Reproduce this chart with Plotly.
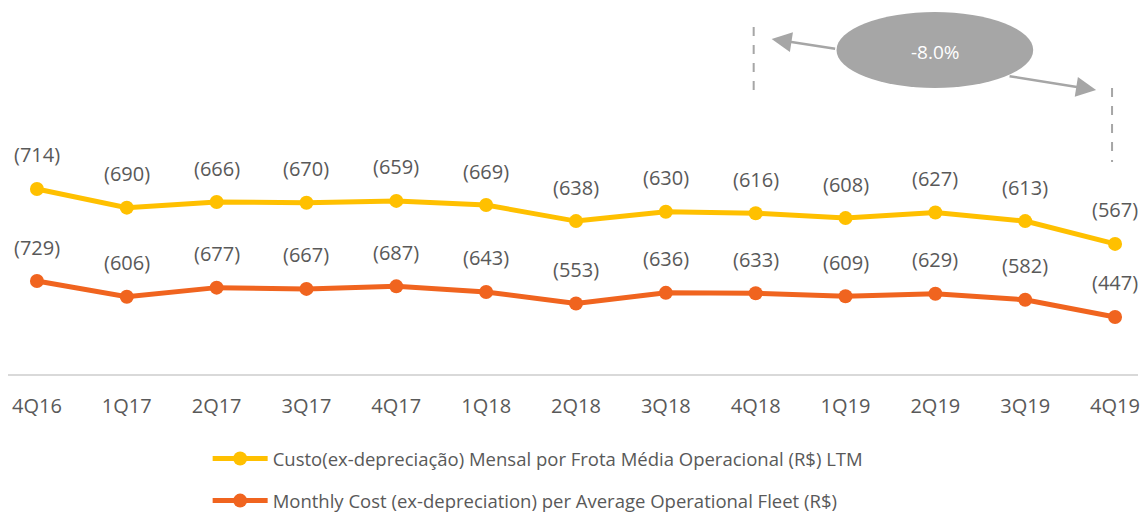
import plotly.graph_objects as go

categories = ["4Q16", "1Q17", "2Q17", "3Q17", "4Q17", "1Q18", "2Q18",
              "3Q18", "4Q18", "1Q19", "2Q19", "3Q19", "4Q19"]

# Custo (ex-depreciação) Mensal por Frota Média Operacional (R$) LTM
ltm_labels = [714, 690, 666, 670, 659, 669, 638, 630, 616, 608, 627, 613, 567]
# plotted position of the LTM line (secondary scale)
ltm_plot = [714, 664, 679, 677, 682, 671, 628, 653, 649, 636, 651, 628, 567]

# Monthly Cost (ex-depreciation) per Average Operational Fleet (R$)
monthly_values = [729, 606, 677, 667, 687, 643, 553, 636, 633, 609, 629, 582, 447]

name_ltm = "Custo(ex-depreciação) Mensal por Frota Média Operacional (R$) LTM"
name_monthly = "Monthly Cost (ex-depreciation) per Average Operational Fleet (R$)"
change_text = "-8.0%"

YELLOW = "#FFC000"
ORANGE = "#F0641F"
TEXT = "#595959"
GRAY = "#A6A6A6"
FONT = "Open Sans"

fig = go.Figure()
fig.add_trace(go.Scatter(
    x=categories, y=ltm_plot, name=name_ltm, yaxis="y2",
    mode="lines+markers", legendgroup="a",
    line=dict(color=YELLOW, width=5), marker=dict(color=YELLOW, size=14),
    hoverinfo="skip"))
fig.add_trace(go.Scatter(
    x=categories, y=monthly_values, name=name_monthly, yaxis="y",
    mode="lines+markers", legendgroup="b",
    line=dict(color=ORANGE, width=5), marker=dict(color=ORANGE, size=14),
    hoverinfo="skip"))

annotations = []
for c, v, lab in zip(categories, ltm_plot, ltm_labels):
    annotations.append(dict(x=c, y=v, xref="x", yref="y2", text=f"({lab})",
                            showarrow=False, yshift=34, yanchor="middle",
                            font=dict(family=FONT, size=20, color=TEXT)))
for c, v in zip(categories, monthly_values):
    annotations.append(dict(x=c, y=v, xref="x", yref="y", text=f"({v})",
                            showarrow=False, yshift=34, yanchor="middle",
                            font=dict(family=FONT, size=20, color=TEXT)))

# helpers: page pixel -> category index / paper fraction
H = 366.0
def fx(px):
    return (px - 37) / 90.0
def py(px):
    return 1 - (px - 8) / H

# arrows
annotations.append(dict(x=fx(773), y=py(39), xref="x", yref="paper", ax=65, ay=10,
                        axref="pixel", ayref="pixel", text="", showarrow=True,
                        arrowhead=2, arrowsize=1.6, arrowwidth=2.5, arrowcolor=GRAY))
annotations.append(dict(x=fx(1098), y=py(90), xref="x", yref="paper", ax=-88, ay=-14,
                        axref="pixel", ayref="pixel", text="", showarrow=True,
                        arrowhead=2, arrowsize=1.6, arrowwidth=2.5, arrowcolor=GRAY))

shapes = [
    dict(type="line", xref="x", yref="paper", x0=fx(755), x1=fx(755), y0=py(27), y1=py(97),
         line=dict(color=GRAY, width=2, dash="dash")),
    dict(type="line", xref="x", yref="paper", x0=fx(1114), x1=fx(1114), y0=py(88), y1=py(162),
         line=dict(color=GRAY, width=2, dash="dash")),
    dict(type="circle", xref="x", yref="paper", x0=fx(838), x1=fx(1035), y0=py(12), y1=py(88),
         fillcolor=GRAY, line=dict(width=0)),
]

annotations.append(dict(x=fx(937), y=py(52), xref="x", yref="paper", text=change_text,
                        showarrow=False, xanchor="center", yanchor="middle",
                        font=dict(family=FONT, size=19, color="white")))

FIG_H = 540
fig.update_layout(
    width=1132, height=FIG_H,
    margin=dict(l=0, r=0, t=0, b=FIG_H - int(H)),
    paper_bgcolor="white", plot_bgcolor="white",
    font=dict(family=FONT, color=TEXT),
    showlegend=True,
    legend=dict(orientation="v", x=(213 - 8 - 5) / 1132, xanchor="left",
                y=py(440), yanchor="top", itemwidth=55,
                font=dict(family=FONT, size=18.5, color=TEXT),
                tracegroupgap=15, bgcolor="rgba(0,0,0,0)"),
    xaxis=dict(type="category", range=[fx(8), fx(1140)], showgrid=False,
               showline=True, linecolor="#D9D9D9", linewidth=2, ticks="",
               tickfont=dict(family=FONT, size=20, color=TEXT),
               ticklabelstandoff=13, zeroline=False, fixedrange=True),
    yaxis=dict(range=[0, 729 * H / 93], visible=False, showgrid=False, zeroline=False),
    yaxis2=dict(range=[219, 714 + 181 / 0.374], visible=False, overlaying="y",
                side="right", showgrid=False, zeroline=False),
    annotations=annotations,
    shapes=shapes,
)

fig.write_html("out.html")
